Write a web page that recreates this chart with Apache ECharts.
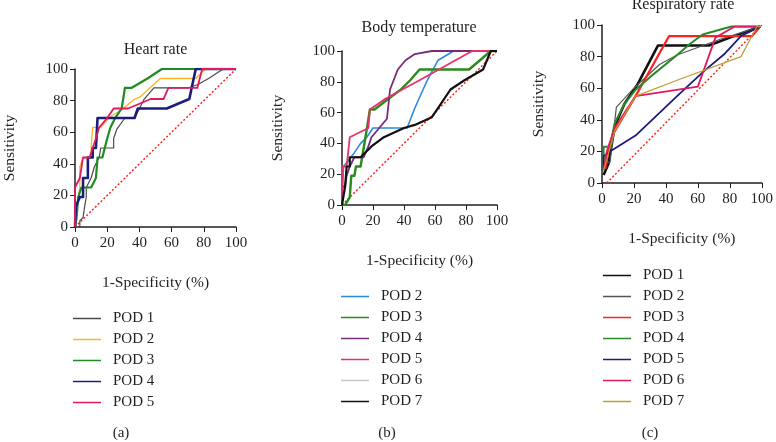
<!DOCTYPE html>
<html>
<head>
<meta charset="utf-8">
<script src="https://cdn.jsdelivr.net/npm/echarts@6/dist/echarts.min.js"></script>
<style>html,body{margin:0;padding:0;background:#fff;}#c{width:776px;height:442px;}</style>
</head>
<body>
<div id="c"></div>
<script>
// ---------- DATA ----------
const panelTitles = ['Heart rate', 'Body temperature', 'Respiratory rate'];
const panelTags = ['(a)', '(b)', '(c)'];
const xTicks = [0, 20, 40, 60, 80, 100];
const diagA = [[0,0],[100,100]];
const diagB = [[0,0],[100,100]];
const diagC = [[3,0],[100,100]];

// (a) Heart rate
const hrNames = ['POD 1','POD 2','POD 3','POD 4','POD 5'];
const hrPOD1 = [[0,0],[3,0],[3,4],[5,6],[6,13],[7,19],[7,25],[10,31],[12,38],[15,44],[16,50],[24,50],[24,56],[26,62],[31,69],[37,69],[40,75],[43,81],[49,88],[70,88],[76,90],[83,94],[92,100],[100,100]];
const hrPOD2 = [[0,0],[1,0],[2,19],[3,25],[3,38],[5,44],[10,44],[10,50],[11,63],[16,63],[21,69],[30,75],[37,81],[40,82],[53,94],[75,94],[81,100],[100,100]];
const hrPOD3 = [[0,0],[1,6],[2,19],[4,25],[10,25],[13,31],[14,44],[17,44],[20,56],[22,63],[25,69],[29,75],[31,88],[35,88],[45,94],[54,100],[100,100]];
const hrPOD4 = [[0,0],[0.5,0],[0.5,13],[3,19],[5,19],[5,31],[8,31],[8,44],[11,44],[11,50],[13,50],[14,69],[37,69],[39,75],[57,75],[71,81],[75,100],[100,100]];
const hrPOD5 = [[0,0],[0,25],[3,31],[5,44],[9,44],[11,50],[13,56],[15,63],[20,69],[24,75],[33,75],[47,81],[55,81],[58,88],[76,88],[79,100],[100,100]];

// (b) Body temperature
const btNames = ['POD 2','POD 3','POD 4','POD 5','POD 6','POD 7'];
const btPOD2 = [[0,0],[1,0],[1,25],[5,30],[8,34],[12,40],[16,44],[20,50],[42,50],[47,63],[55,81],[62,94],[72,100],[100,100]];
const btPOD3 = [[0,0],[2,0],[5,5],[6,19],[8,19],[9,25],[12,25],[13,31],[15,43],[18,62],[21,62],[30,69],[38,75],[44,81],[50,88],[82,88],[96,100],[100,100]];
const btPOD4 = [[0,0],[0,12],[2,12],[3,19],[5,25],[8,31],[14,31],[17,38],[19,44],[24,50],[29,56],[31,75],[36,88],[41,94],[47,98],[58,100],[100,100]];
const btPOD5 = [[0,0],[0,25],[3,25],[5,44],[17,50],[18,62],[28,69],[50,81],[84,100],[100,100]];
const btPOD6 = [];
const btPOD7 = [[0,0],[2,12],[3,25],[5,25],[5,31],[12,31],[19,38],[27,44],[40,50],[47,52],[58,57],[64,66],[70,75],[79,81],[91,88],[96,100],[100,100]];

// (c) Respiratory rate
const rrNames = ['POD 1','POD 2','POD 3','POD 4','POD 5','POD 6','POD 7'];
const rrPOD1 = [[1,5],[4,12],[8,36],[14,50],[22,62],[35,87],[67,87],[80,92],[99,99]];
const rrPOD2 = [[1,13],[5,13],[9,48],[20,60],[36,75],[47,81],[74,91],[99,99]];
const rrPOD3 = [[2,9],[4,20],[7,31],[21,55],[42,93],[94,93],[99,99]];
const rrPOD4 = [[1,8],[1,23],[5,23],[8,38],[14,50],[21,59],[30,67],[47,81],[55,88],[63,94],[81,99],[99,99]];
const rrPOD5 = [[1,8],[1,17],[5,20],[21,30],[47,55],[64,71],[77,82],[87,93],[99,99]];
const rrPOD6 = [[1,8],[3,20],[8,35],[21,55],[60,61],[71,92],[83,99],[99,99]];
const rrPOD7 = [[1,8],[3,15],[8,33],[21,55],[47,65],[87,80],[97,99],[99,99]];

// ---------- STYLE ----------
const FONT = 'Liberation Serif';
const INK = '#231f20';
const grids = [
  {left: 75, top: 69, width: 161, height: 158},
  {left: 342, top: 51, width: 155, height: 154},
  {left: 602, top: 25, width: 162, height: 158}
];
const yNameGaps = [57, 56, 55];
const legendPos = [{left: 73, top: 311}, {left: 341, top: 289}, {left: 603, top: 268}];
const titlePos = [[155.5, 50], [419, 28], [683, 5]];
const tagPos = [[121, 433], [387, 433], [650, 433]];

const panels = [
  {names: hrNames, data: [hrPOD1, hrPOD2, hrPOD3, hrPOD4, hrPOD5],
   colors: ['#4a4a4a', '#ffb428', '#1f8c1f', '#1c1c7c', '#e01a5c'],
   widths: [1.2, 1.3, 2.2, 2.6, 1.8], diag: diagA},
  {names: btNames, data: [btPOD2, btPOD3, btPOD4, btPOD5, btPOD6, btPOD7],
   colors: ['#2a8ae0', '#2a8a1a', '#7a2a7a', '#e8306a', '#c8c8c8', '#111111'],
   widths: [1.6, 2.4, 1.8, 1.8, 1.5, 2.2], diag: diagB},
  {names: rrNames, data: [rrPOD1, rrPOD2, rrPOD3, rrPOD4, rrPOD5, rrPOD6, rrPOD7],
   colors: ['#111111', '#555555', '#ff2020', '#2a8a2a', '#1c1c7c', '#e01a5c', '#b8a030'],
   widths: [2.6, 1.2, 2.2, 2.0, 1.8, 1.8, 1.2], diag: diagC}
];

const xAxes = [], yAxes = [], series = [], legends = [], graphics = [];
panels.forEach((p, gi) => {
  const tag = 'abc'[gi];
  xAxes.push({
    type: 'value', gridIndex: gi, min: 0, max: 100, interval: 20,
    name: '1-Specificity (%)', nameLocation: 'middle', nameGap: 48,
    nameTextStyle: {fontFamily: FONT, fontSize: 15.5, color: INK},
    axisLine: {show: true, onZero: false, lineStyle: {color: INK, width: 1.5}},
    axisTick: {show: true, length: 5, lineStyle: {color: INK, width: 1}},
    axisLabel: {margin: 9, fontFamily: FONT, fontSize: 15, color: INK,
      formatter: v => xTicks.includes(v) ? String(v) : ''},
    splitLine: {show: false}
  });
  yAxes.push({
    type: 'value', gridIndex: gi, min: 0, max: 100, interval: 20,
    name: 'Sensitivity', nameLocation: 'middle', nameGap: yNameGaps[gi],
    nameTextStyle: {fontFamily: FONT, fontSize: 15.5, color: INK},
    axisLine: {show: true, onZero: false, lineStyle: {color: INK, width: 1.5}},
    axisTick: {show: true, length: 5, lineStyle: {color: INK, width: 1}},
    axisLabel: {margin: 7, fontFamily: FONT, fontSize: 15, color: INK},
    splitLine: {show: false}
  });
  series.push({
    type: 'line', name: tag + '·diag', xAxisIndex: gi, yAxisIndex: gi,
    data: p.diag, showSymbol: false, silent: true, z: 1,
    lineStyle: {color: '#ff1a1a', width: 1.4, type: [2, 2]}
  });
  const legendNames = [];
  p.names.forEach((n, i) => {
    const sname = tag + '·' + n;
    legendNames.push(sname);
    series.push({
      type: 'line', name: sname, xAxisIndex: gi, yAxisIndex: gi,
      data: p.data[i], showSymbol: false, smooth: false, z: 2 + i,
      color: p.colors[i],
      lineStyle: {color: p.colors[i], width: p.widths[i], join: 'round'}
    });
  });
  legends.push({
    orient: 'vertical', left: legendPos[gi].left, top: legendPos[gi].top,
    data: legendNames, icon: 'rect', itemWidth: 28, itemHeight: 1.5, itemGap: 6,
    selectedMode: false, padding: 0,
    formatter: name => name.split('·')[1],
    textStyle: {fontFamily: FONT, fontSize: 15, color: INK, lineHeight: 15, padding: [0, 0, 0, 7]}
  });
  graphics.push({
    type: 'text', x: titlePos[gi][0], y: titlePos[gi][1],
    style: {text: panelTitles[gi], font: '16px "' + FONT + '"', fill: INK, textAlign: 'center', textVerticalAlign: 'middle'}
  });
  graphics.push({
    type: 'text', x: tagPos[gi][0], y: tagPos[gi][1],
    style: {text: panelTags[gi], font: '15px "' + FONT + '"', fill: INK, textAlign: 'center', textVerticalAlign: 'middle'}
  });
});

const chart = echarts.init(document.getElementById('c'), null, {renderer: 'canvas'});
chart.setOption({
  animation: false,
  backgroundColor: '#ffffff',
  grid: grids,
  xAxis: xAxes,
  yAxis: yAxes,
  legend: legends,
  series: series,
  graphic: graphics
});
</script>
</body>
</html>
